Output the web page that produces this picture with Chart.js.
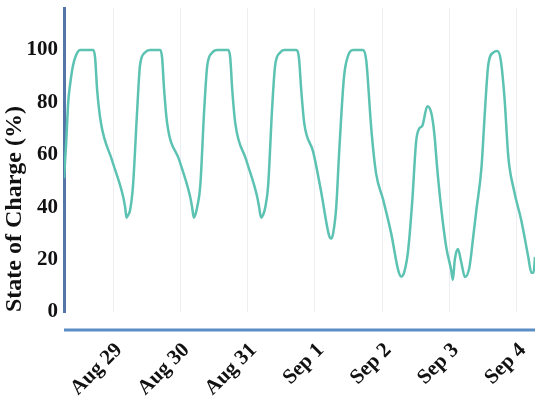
<!DOCTYPE html>
<html>
<head>
<meta charset="utf-8">
<script src="https://cdn.jsdelivr.net/npm/chart.js@4.4.0/dist/chart.umd.min.js"></script>
<style>
    html, body { margin: 0; padding: 0; background: #fff; }
    #wrap { width: 550px; height: 406px; }
</style>
</head>
<body>
<div id="wrap"><canvas id="socChart"></canvas></div>
<script>
// hours counted from Aug 28 00:00
const dayLabels = ["Aug 29", "Aug 30", "Aug 31", "Sep 1", "Sep 2", "Sep 3", "Sep 4"];
const dayTicks = [24, 48, 72, 96, 120, 144, 168];
const socTicks = [0, 20, 40, 60, 80, 100];

const hours = [
    6.5, 7.3, 8.0, 8.7, 9.7, 10.8, 12.3, 16.9, 17.6, 18.3, 19.7, 23.6, 27.6, 28.3, 28.8, 29.4, 30.1, 31.1, 32.6, 33.6, 35.4, 37.2,
    40.8, 41.5, 42.2, 43.3, 47.6, 51.5, 52.2, 52.8, 53.3, 54.0, 55.1, 56.5, 57.6, 59.4, 61.2,
    65.1, 65.8, 66.5, 67.6, 71.5, 75.4, 76.1, 76.8, 77.5, 78.3, 79.3, 80.7, 81.8, 83.6, 85.0, 89.3,
    90.3, 91.1, 92.2, 95.4, 98.2, 101.1, 101.8, 102.5, 103.6, 104.7, 106.4, 107.9, 109.6, 113.2,
    114.3, 116.1, 117.8, 120.3, 123.2, 125.7, 126.8, 127.8, 129.2, 130.7, 132.1, 133.2, 134.3, 136.1, 137.5, 138.6, 139.6,
    141.0, 142.8, 144.6, 145.2, 145.9, 147.0, 148.2, 149.5, 151.1, 152.5, 153.6, 155.4, 156.6, 157.8, 159.6, 161.1, 162.3,
    163.6, 165.0, 167.1, 169.6, 172.1, 173.2, 174.0, 174.5
];
const soc = [
    51, 65, 80, 87, 94, 98, 100, 100, 97, 85, 72, 58, 44, 40, 36, 37, 39, 48, 77, 94, 99, 100,
    100, 97, 85, 72, 58, 44, 40, 36, 37, 40, 48, 77, 94, 99, 100,
    100, 97, 85, 72, 58, 44, 40, 36, 37, 40, 48, 77, 94, 99, 100, 100,
    97, 85, 72, 61, 46, 29, 28, 30, 40, 62, 90, 98, 100, 100,
    96, 70, 53, 43, 30, 16, 13.5, 15, 23, 42, 65, 70, 71, 78.5, 76, 68, 55,
    40, 25, 16, 12.3, 20, 24, 19, 13.4, 17, 29, 39, 55, 76, 94, 99, 99.6, 96,
    82, 59, 46, 35, 21, 15, 15, 21
];

// x axis line sits a bit below the plot, detached from the y=0 level
const xAxisLine = {
    id: "xAxisLine",
    afterDraw(chart) {
        const { ctx, chartArea } = chart;
        ctx.save();
        ctx.strokeStyle = "#5b8ec4";
        ctx.lineWidth = 3;
        ctx.beginPath();
        ctx.moveTo(chartArea.left, chartArea.bottom + 18);
        ctx.lineTo(chartArea.right, chartArea.bottom + 18);
        ctx.stroke();
        ctx.restore();
    }
};

const serif = "'Liberation Serif', 'Times New Roman', serif";

new Chart(document.getElementById("socChart").getContext("2d"), {
    type: "line",
    data: {
        datasets: [{
            label: "State of Charge",
            data: hours.map((h, i) => ({ x: h, y: soc[i] })),
            borderColor: "#5cc2b2",
            borderWidth: 2.5,
            pointRadius: 0,
            fill: false,
            cubicInterpolationMode: "monotone"
        }]
    },
    options: {
        responsive: true,
        maintainAspectRatio: false,
        animation: false,
        devicePixelRatio: 1,
        layout: { padding: { top: 8, right: 15, left: 0, bottom: 0 } },
        plugins: {
            legend: { display: false },
            tooltip: { enabled: false }
        },
        scales: {
            x: {
                type: "linear",
                min: 6.5,
                max: 174.5,
                afterBuildTicks: scale => { scale.ticks = dayTicks.map(v => ({ value: v })); },
                afterFit: scale => {
                    scale.height = 94;
                    scale.paddingLeft = 0;
                    scale.paddingRight = 0;
                },
                ticks: {
                    autoSkip: false,
                    minRotation: 45,
                    maxRotation: 45,
                    padding: 26,
                    labelOffset: 6,
                    color: "#111",
                    font: { family: serif, size: 21, weight: "bold" },
                    callback: v => dayLabels[dayTicks.indexOf(v)]
                },
                grid: { color: "#eceef2", lineWidth: 1, drawTicks: false },
                border: { display: false }
            },
            y: {
                min: 0,
                max: 116,
                afterBuildTicks: scale => { scale.ticks = socTicks.map(v => ({ value: v })); },
                afterFit: scale => {
                    scale.width = 64;
                    scale.paddingTop = 0;
                    scale.paddingBottom = 0;
                },
                ticks: { padding: 6, color: "#111", font: { family: serif, size: 21, weight: "bold" } },
                grid: { display: false, drawTicks: false },
                border: { display: true, color: "#5574a8", width: 3 },
                title: {
                    display: true,
                    text: "State of Charge (%)",
                    align: "start",
                    color: "#111",
                    padding: 0,
                    font: { family: serif, size: 24, weight: "bold" }
                }
            }
        }
    },
    plugins: [xAxisLine]
});
</script>
</body>
</html>
